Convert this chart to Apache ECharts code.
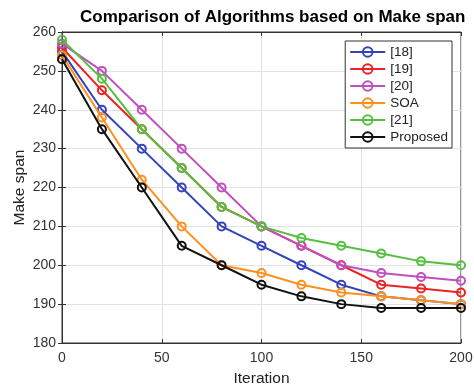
<!DOCTYPE html>
<html><head><meta charset="utf-8">
<script src="https://cdn.jsdelivr.net/npm/echarts@6/dist/echarts.min.js"></script>
<style>html,body{margin:0;padding:0;background:#fff}#c{width:474px;height:386px}</style>
</head><body><div id="c"></div>
<script>
const iterations = [0,20,40,60,80,100,120,140,160,180,200];
const s18 = [255,240,230,220,210,205,200,195,192,191,190];
const s19 = [256,245,235,225,215,210,205,200,195,194,193];
const s20 = [257,250,240,230,220,210,205,200,198,197,196];
const sSOA = [254,238,222,210,200,198,195,193,192,191,190];
const s21 = [258,248,235,225,215,210,207,205,203,201,200];
const sProp = [253,235,220,205,200,195,192,190,189,189,189];
const names = ['[18]','[19]','[20]','SOA','[21]','Proposed'];
const colors = ['#3344bb','#ee2222','#c04fc0','#ff9020','#55c040','#111111'];
const allData = [s18,s19,s20,sSOA,s21,sProp];

const chart = echarts.init(document.getElementById('c'));
const font = 'Liberation Sans, Arial, sans-serif';
chart.setOption({
  animation:false,
  title:{text:'Comparison of Algorithms based on Make span',left:75,top:4,
    textStyle:{fontFamily:font,fontSize:17,fontWeight:'bold',color:'#000'}},
  grid:{left:62,right:13,top:32,bottom:43,show:true,borderColor:'#333',borderWidth:1,backgroundColor:'#fff',outerBoundsMode:'none',containLabel:false},
  legend:{orient:'vertical',right:22,top:41,backgroundColor:'#fff',borderColor:'#333',borderWidth:1,
    padding:[4,4,4,4],itemGap:3,itemWidth:35,itemHeight:12,
    textStyle:{fontFamily:font,fontSize:13.5,color:'#222'},data:names},
  xAxis:[{type:'value',min:0,max:200,interval:50,name:'Iteration',nameLocation:'middle',nameGap:28,nameMoveOverlap:false,
    nameTextStyle:{fontFamily:font,fontSize:15.5,color:'#222'},
    axisLine:{lineStyle:{color:'#333'}},axisTick:{inside:true,length:4,lineStyle:{color:'#333'}},
    axisLabel:{fontFamily:font,fontSize:14,color:'#333',margin:8},
    splitLine:{show:true,lineStyle:{color:'#e2e2e2'}}},
   {type:'value',position:'top',min:0,max:200,interval:50,axisLine:{show:true,lineStyle:{color:'#333'}},
    axisTick:{inside:true,length:4,lineStyle:{color:'#333'}},axisLabel:{show:false},splitLine:{show:false}}],
  yAxis:[{type:'value',min:180,max:260,interval:10,name:'Make span',nameLocation:'middle',nameGap:34,nameMoveOverlap:false,
    nameTextStyle:{fontFamily:font,fontSize:15.5,color:'#222'},
    axisLine:{show:true,lineStyle:{color:'#333'}},axisTick:{show:true,inside:true,length:4,lineStyle:{color:'#333'}},
    axisLabel:{fontFamily:font,fontSize:14,color:'#333',margin:6},
    splitLine:{show:true,lineStyle:{color:'#e2e2e2'}}},
   {type:'value',position:'right',min:180,max:260,interval:10,axisLine:{show:true,lineStyle:{color:'#333'}},
    axisTick:{show:true,inside:true,length:4,lineStyle:{color:'#333'}},axisLabel:{show:false},splitLine:{show:false}}],
  series: names.map((n,i)=>({
    name:n,type:'line',color:colors[i],
    data: iterations.map((x,j)=>[x,allData[i][j]]),
    symbol:'circle',symbolSize:8,lineStyle:{width:2,color:colors[i]},
    itemStyle:{color:'rgba(255,255,255,0)',borderColor:colors[i],borderWidth:2},
    z:2+i
  }))
});
</script></body></html>
